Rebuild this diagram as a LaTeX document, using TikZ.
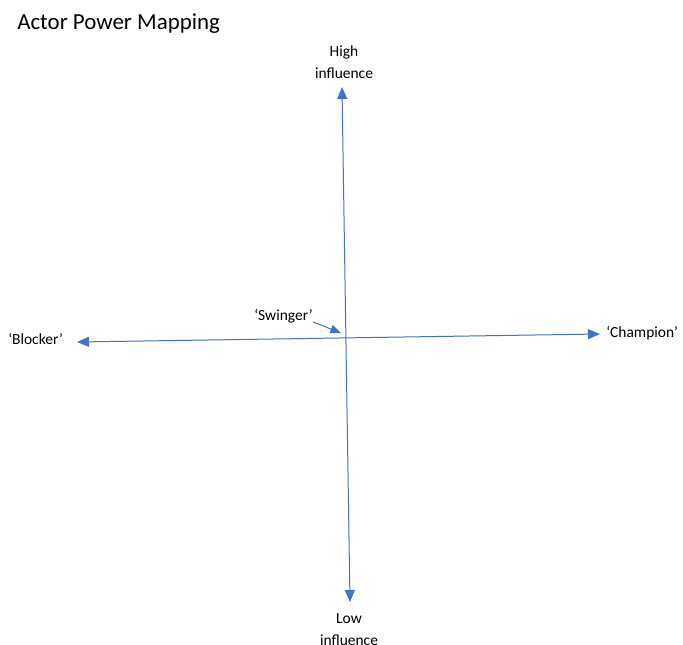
\documentclass[tikz,border=0pt]{standalone}
\usepackage{fontspec}
\setmainfont{Carlito}
\usetikzlibrary{arrows.meta}
\definecolor{axisblue}{HTML}{4472C4}
\begin{document}
\begin{tikzpicture}[x=0.75pt,y=-0.75pt,
  axis/.style={draw=axisblue,line width=0.75pt,{Triangle[length=9pt,width=7.5pt]}-{Triangle[length=9pt,width=7.5pt]}},
  pointer/.style={draw=axisblue,line width=0.75pt,-{Triangle[length=8pt,width=6.5pt]}},
  lbl/.style={inner sep=0pt,font=\fontsize{11.6}{16.5}\selectfont,align=center},
  ttl/.style={inner sep=0pt,font=\fontsize{17.2}{20}\selectfont}]
\useasboundingbox (0,0) rectangle (683,644);
\node[ttl,anchor=base west] (title) at (17,29) {Actor Power Mapping};
\node[lbl,anchor=base] (high) at (344,78) {High\\influence};
\node[lbl,anchor=base] (low) at (349,645) {Low\\influence};
\node[lbl,anchor=base west] (blocker) at (8,344) {‘Blocker’};
\node[lbl,anchor=base west] (champion) at (606,337) {‘Champion’};
\node[lbl,anchor=base east] (swinger) at (313,320) {‘Swinger’};
\coordinate (vtop) at (342,87);
\coordinate (vbot) at (350,602);
\coordinate (hleft) at (77,342);
\coordinate (hright) at (600,334);
\coordinate (centre) at (341,333);
\draw[axis] (vtop) -- (vbot);
\draw[axis] (hleft) -- (hright);
\draw[pointer] (swinger.south east) ++(0,-1) -- (centre);
\end{tikzpicture}
\end{document}
